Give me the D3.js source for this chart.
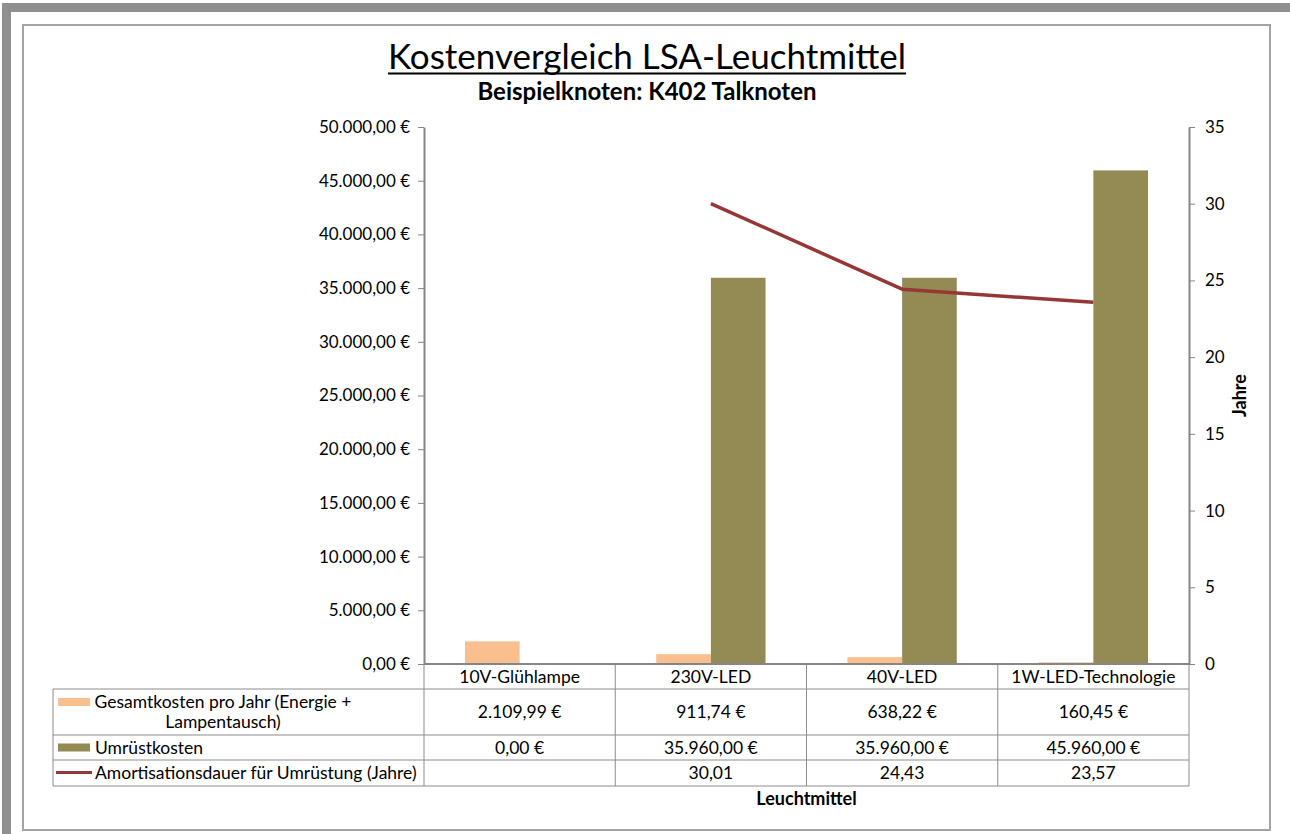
<!DOCTYPE html>
<html>
<head>
<meta charset="utf-8">
<script src="https://cdn.jsdelivr.net/npm/d3@7"></script>
<style>
  html, body { margin: 0; padding: 0; background: #fff; }
  svg { display: block; }
  text { font-family: Lato, "Noto Sans", "DejaVu Sans", sans-serif; fill: #000; }
</style>
</head>
<body>
<svg id="chart" width="1290" height="834"></svg>
<script>
// ---------- data ----------
const categories = ["10V-Glühlampe", "230V-LED", "40V-LED", "1W-LED-Technologie"];
const gesamtkosten = [2109.99, 911.74, 638.22, 160.45];
const umruestkosten = [0, 35960, 35960, 45960];
const amortisation = [null, 30.01, 24.43, 23.57];
const euroTicks = [0, 5000, 10000, 15000, 20000, 25000, 30000, 35000, 40000, 45000, 50000];
const yearTicks = [0, 5, 10, 15, 20, 25, 30, 35];
const legendGesamt = ["Gesamtkosten pro Jahr (Energie +", "Lampentausch)"];
const legendUmruest = ["Umrüstkosten"];
const legendAmort = ["Amortisationsdauer für Umrüstung (Jahre)"];
const titleText = "Kostenvergleich LSA-Leuchtmittel";
const subtitleText = "Beispielknoten: K402 Talknoten";
const xTitleText = "Leuchtmittel";
const y2TitleText = "Jahre";

// ---------- styles ----------
const colGesamt = "#F9BF8F";
const colUmruest = "#948A54";
const colAmort = "#953735";
const axisCol = "#868686";
const gridCol = "#8c8c8c";
const tableFont = 17.5;
const tickFont = 17;

const de = d3.formatLocale({ decimal: ",", thousands: ".", grouping: [3], currency: ["", " €"] });
const fmtEuro = v => de.format(",.2f")(v) + " €";
const fmtNum = v => de.format(",.2f")(v);

const svg = d3.select("#chart");

// frame
svg.append("rect").attr("x", 2).attr("y", 3).attr("width", 1288).attr("height", 9).attr("fill", "#8f8f8f");
svg.append("rect").attr("x", 2).attr("y", 3).attr("width", 9).attr("height", 831).attr("fill", "#8f8f8f");
svg.append("rect").attr("x", 23).attr("y", 25).attr("width", 1247).attr("height", 805)
  .attr("fill", "#fff").attr("stroke", "#a3a3a3").attr("stroke-width", 2);

// layout
const plot = { left: 424, right: 1189, top: 127, bottom: 664 };
const rowsY = [664, 689, 735, 760, 786];
const legendLeft = 53;

const x = d3.scaleBand().domain(categories).range([plot.left, plot.right]).paddingInner(0).paddingOuter(0);
const xSub = d3.scaleBand().domain(["g", "u"]).range([0, x.bandwidth()]).paddingInner(0).paddingOuter(0.75);
const y = d3.scaleLinear().domain([0, 50000]).range([plot.bottom, plot.top]);
const y2 = d3.scaleLinear().domain([0, 35]).range([plot.bottom, plot.top]);

// title
const title = svg.append("text").attr("x", 647).attr("y", 69).attr("text-anchor", "middle")
  .attr("font-size", 35).text(titleText);
const tb = title.node().getBBox();
svg.append("line").attr("x1", tb.x).attr("x2", tb.x + tb.width).attr("y1", 73.5).attr("y2", 73.5)
  .attr("stroke", "#000").attr("stroke-width", 2);
svg.append("text").attr("x", 647).attr("y", 100).attr("text-anchor", "middle")
  .attr("font-size", 24).attr("font-weight", "bold").text(subtitleText);

// bars
const gBars = svg.append("g");
gBars.selectAll("rect.g").data(categories).join("rect")
  .attr("class", "g")
  .attr("x", c => x(c) + xSub("g"))
  .attr("width", xSub.bandwidth())
  .attr("y", (c, i) => y(gesamtkosten[i]))
  .attr("height", (c, i) => y(0) - y(gesamtkosten[i]))
  .attr("fill", colGesamt);
gBars.selectAll("rect.u").data(categories).join("rect")
  .attr("class", "u")
  .attr("x", c => x(c) + xSub("u"))
  .attr("width", xSub.bandwidth())
  .attr("y", (c, i) => y(umruestkosten[i]))
  .attr("height", (c, i) => y(0) - y(umruestkosten[i]))
  .attr("fill", colUmruest);

// line
const lineData = categories.map((c, i) => ({ c, v: amortisation[i] })).filter(d => d.v != null);
svg.append("path").datum(lineData)
  .attr("fill", "none").attr("stroke", colAmort).attr("stroke-width", 3.5).attr("stroke-linejoin", "round")
  .attr("d", d3.line().x(d => x(d.c) + x.bandwidth() / 2).y(d => y2(d.v)));

// left axis
const axL = svg.append("g").attr("transform", `translate(${plot.left},0)`)
  .call(d3.axisLeft(y).tickValues(euroTicks).tickSize(6).tickSizeOuter(0).tickPadding(8).tickFormat(fmtEuro));
// right axis
const axR = svg.append("g").attr("transform", `translate(${plot.right},0)`)
  .call(d3.axisRight(y2).tickValues(yearTicks).tickSize(6).tickSizeOuter(0).tickPadding(10).tickFormat(d3.format("d")));
[axL, axR].forEach(a => {
  a.select(".domain").attr("stroke", axisCol).attr("stroke-width", 2);
  a.selectAll(".tick line").attr("stroke", axisCol);
  a.selectAll(".tick text").attr("font-size", tickFont).attr("fill", "#000")
    .attr("font-family", 'Lato, "Noto Sans", sans-serif');
});

// data table
const gT = svg.append("g");
const colEdges = categories.map(c => x(c)).concat([plot.right]);
gT.selectAll("line.v").data(colEdges).join("line")
  .attr("x1", d => d).attr("x2", d => d).attr("y1", rowsY[0]).attr("y2", rowsY[4])
  .attr("stroke", gridCol).attr("stroke-width", 1);
gT.append("line").attr("x1", legendLeft).attr("x2", legendLeft).attr("y1", rowsY[1]).attr("y2", rowsY[4])
  .attr("stroke", gridCol);
gT.selectAll("line.h").data(rowsY.slice(1)).join("line")
  .attr("x1", legendLeft).attr("x2", plot.right).attr("y1", d => d).attr("y2", d => d)
  .attr("stroke", gridCol).attr("stroke-width", 1);
svg.append("line").attr("x1", plot.left).attr("x2", plot.right).attr("y1", plot.bottom).attr("y2", plot.bottom)
  .attr("stroke", axisCol).attr("stroke-width", 2);

const rowMid = i => (rowsY[i] + rowsY[i + 1]) / 2;
gT.selectAll("text.cat").data(categories).join("text")
  .attr("x", c => x(c) + x.bandwidth() / 2).attr("y", rowMid(0)).attr("dy", "0.35em")
  .attr("text-anchor", "middle").attr("font-size", tableFont).text(c => c);
const rowValues = [
  gesamtkosten.map(fmtEuro),
  umruestkosten.map(fmtEuro),
  amortisation.map(v => v == null ? "" : fmtNum(v))
];
rowValues.forEach((vals, r) => {
  gT.selectAll("text.r" + r).data(categories).join("text")
    .attr("x", c => x(c) + x.bandwidth() / 2).attr("y", rowMid(r + 1)).attr("dy", "0.35em")
    .attr("text-anchor", "middle").attr("font-size", tableFont).text((c, i) => vals[i]);
});

// legend entries
const legendTextCenter = 223;
gT.append("rect").attr("x", 58).attr("y", 698).attr("width", 32).attr("height", 8).attr("fill", colGesamt);
gT.selectAll("text.l1").data(legendGesamt).join("text")
  .attr("x", legendTextCenter).attr("y", (d, i) => 702 + i * 20).attr("dy", "0.35em")
  .attr("text-anchor", "middle").attr("font-size", tableFont).text(d => d);
gT.append("rect").attr("x", 58).attr("y", 743.5).attr("width", 32).attr("height", 8).attr("fill", colUmruest);
gT.selectAll("text.l2").data(legendUmruest).join("text")
  .attr("x", 95).attr("y", rowMid(2)).attr("dy", "0.35em")
  .attr("font-size", tableFont).text(d => d);
gT.append("line").attr("x1", 56).attr("x2", 92).attr("y1", 772.5).attr("y2", 772.5)
  .attr("stroke", colAmort).attr("stroke-width", 3);
gT.selectAll("text.l3").data(legendAmort).join("text")
  .attr("x", 95).attr("y", rowMid(3)).attr("dy", "0.35em")
  .attr("font-size", tableFont).text(d => d);

// axis titles
svg.append("text").attr("x", (plot.left + plot.right) / 2).attr("y", 799).attr("dy", "0.35em")
  .attr("text-anchor", "middle").attr("font-size", 18).attr("font-weight", "bold").text(xTitleText);
svg.append("text").attr("transform", `translate(1240,${(plot.top + plot.bottom) / 2}) rotate(-90)`)
  .attr("dy", "0.35em").attr("text-anchor", "middle").attr("font-size", 18).attr("font-weight", "bold")
  .text(y2TitleText);
</script>
</body>
</html>
